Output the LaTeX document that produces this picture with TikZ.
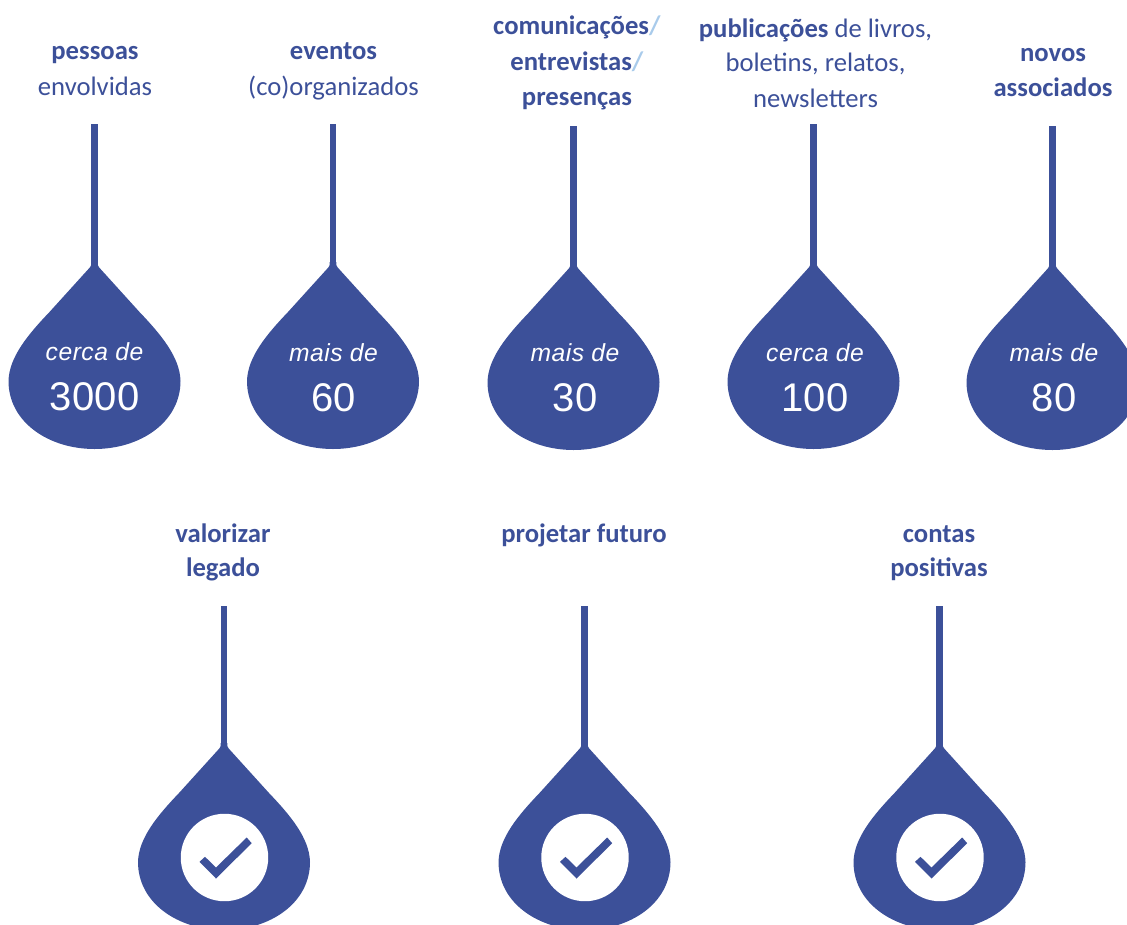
\documentclass[tikz,border=0pt]{standalone}
\usepackage{fontspec}
\setmainfont{Carlito}
\newfontfamily\numfont[LetterSpace=1]{Liberation Sans}
\newfontfamily\smallfont[LetterSpace=2]{Liberation Sans}
\definecolor{dropblue}{HTML}{3C5099}
\definecolor{slashblue}{HTML}{A9CBEB}
\newcommand{\slashmark}{\textcolor{slashblue}{\textbf{/}}}
\newcommand{\labfont}{\fontsize{20pt}{26pt}\selectfont}
\tikzset{
  dropfill/.style={fill=dropblue,draw=none},
  stemline/.style={draw=dropblue,line width=5pt},
  labeltext/.style={text=dropblue,align=center,inner sep=0pt,anchor=base,font=\labfont},
  smalltext/.style={text=white,inner sep=0pt,font=\smallfont\itshape\fontsize{18.5pt}{20pt}\selectfont},
  bigtext/.style={text=white,inner sep=0pt,font=\numfont\fontsize{30pt}{32pt}\selectfont},
  disc/.style={circle,fill=white,inner sep=0pt,minimum size=65.6pt},
  drop/.pic={
    \path[dropfill] (-3.3,-3) -- (3.3,-3) -- (3.3,0)
      .. controls (3.8,1.5) and (5,3) .. (6.5,4.5)
      -- (45,47)
      .. controls (66,69) and (85.5,92) .. (86,116)
      .. controls (86,157) and (46,184) .. (0,184)
      .. controls (-46,184) and (-86,157) .. (-86,116)
      .. controls (-85.5,92) and (-66,69) .. (-45,47)
      -- (-6.5,4.5)
      .. controls (-5,3) and (-3.8,1.5) .. (-3.3,0) -- cycle;
  },
  tick/.pic={
    \fill[dropblue] (-25,4.3) -- (-8.5,21) -- (27.2,-14.3) -- (22.2,-20) -- (-8.5,10) -- (-19.5,-0.7) -- cycle;
  }
}
\begin{document}
\begin{tikzpicture}[x=0.75pt,y=-0.75pt]
\useasboundingbox (0,0) rectangle (1127,924);
\clip (0,0) rectangle (1127,924);
% --- top row
\foreach \nm/\cx/\tip/\st in {a/94.5/265/124,b/333/265/124,c/573.5/266/126,d/813.5/265/124,e/1052.5/266/126}{
  \coordinate (\nm top) at (\cx,\st);
  \coordinate (\nm tip) at (\cx,\tip);
  \draw[stemline] (\nm top) -- (\nm tip);
  \pic at (\nm tip) {drop};
}
\node[smalltext] (as) at (94.5,352) {cerca de};
\node[bigtext] (an) at (94.5,397) {3000};
\node[smalltext] (bs) at (333.5,353) {mais de};
\node[bigtext] (bn) at (333.5,398) {60};
\node[smalltext] (cs) at (575,353) {mais de};
\node[bigtext] (cn) at (575,398) {30};
\node[smalltext] (ds) at (815,353) {cerca de};
\node[bigtext] (dn) at (815,398) {100};
\node[smalltext] (es) at (1054,353) {mais de};
\node[bigtext] (en) at (1054,398) {80};
\node[labeltext] (al1) at (95,60) {\textbf{pessoas}};
\node[labeltext] (al2) at (95,95) {envolvidas};
\node[labeltext] (bl1) at (333.5,60) {\textbf{eventos}};
\node[labeltext] (bl2) at (333.5,95) {(co)organizados};
\node[labeltext] (cl1) at (577,35) {\textbf{comunicações}\slashmark};
\node[labeltext] (cl2) at (577,70) {\textbf{entrevistas}\slashmark};
\node[labeltext] (cl3) at (577,105) {\textbf{presenças}};
\node[labeltext] (dl1) at (815.5,38) {\textbf{publicações} de livros,};
\node[labeltext] (dl2) at (815.5,72) {boletins, relatos,};
\node[labeltext] (dl3) at (815.5,107) {newsletters};
\node[labeltext] (el1) at (1053,62) {\textbf{novos}};
\node[labeltext] (el2) at (1053,97) {\textbf{associados}};
% --- bottom row
\foreach \nm/\cx/\dx in {f/224/224.5,g/584.5/585,h/939.5/940}{
  \coordinate (\nm top) at (\cx,606);
  \coordinate (\nm tip) at (\cx,746);
  \coordinate (\nm cen) at (\dx,857.5);
  \draw[stemline] (\nm top) -- (\nm tip);
  \pic at (\nm tip) {drop};
  \node[disc] (\nm disc) at (\nm cen) {};
  \pic at (\nm disc.center) {tick};
}
\node[labeltext] (fl1) at (223,542) {\textbf{valorizar}};
\node[labeltext] (fl2) at (223,576) {\textbf{legado}};
\node[labeltext] (gl1) at (584,542) {\textbf{projetar futuro}};
\node[labeltext] (hl1) at (939,542) {\textbf{contas}};
\node[labeltext] (hl2) at (939,576) {\textbf{positivas}};
\end{tikzpicture}
\end{document}
